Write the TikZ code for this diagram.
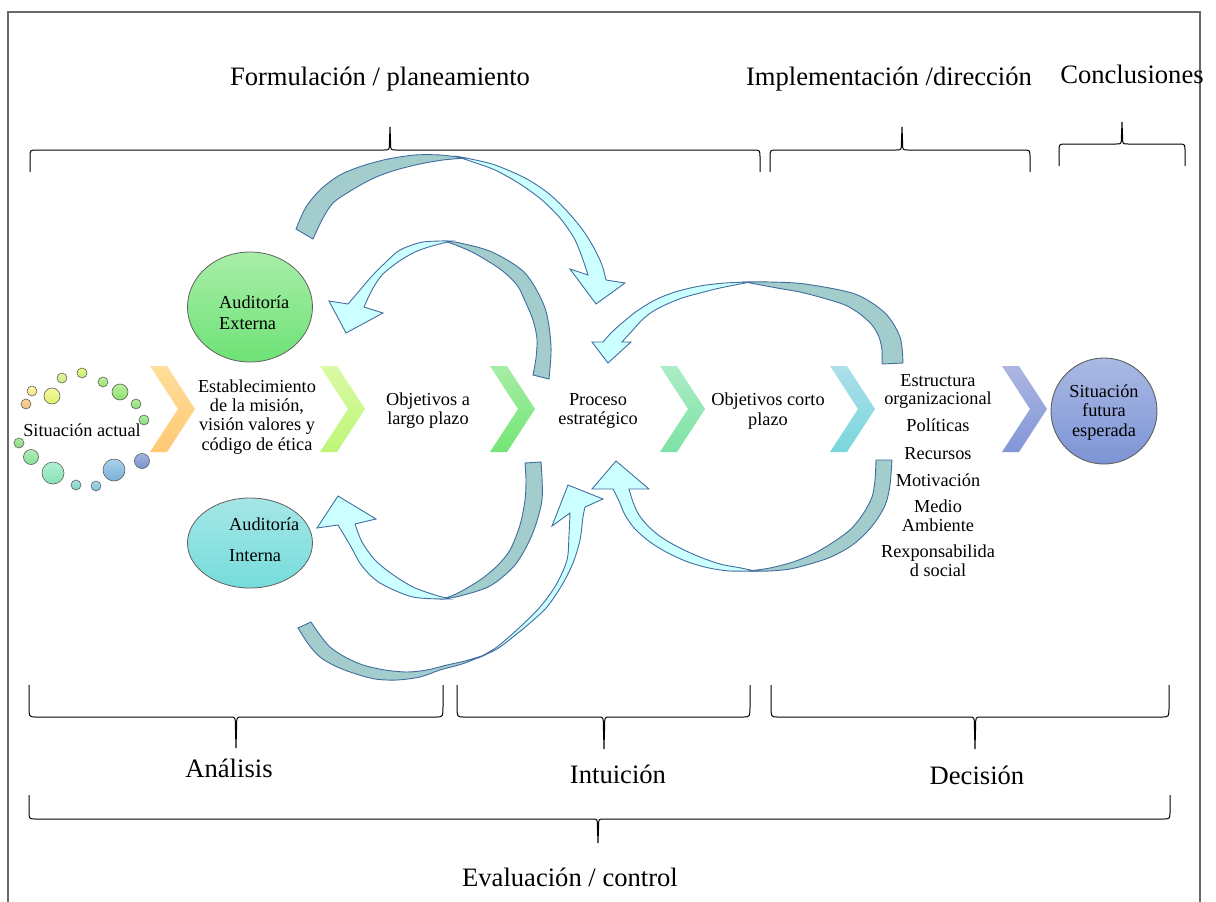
\documentclass[tikz,border=0pt]{standalone}
\usepackage{fontspec}
\setmainfont{Liberation Serif}
\usetikzlibrary{shapes.geometric}

\definecolor{framegray}{RGB}{105,105,105}
\definecolor{arrowline}{RGB}{65,110,160}
\definecolor{arrowdark}{RGB}{163,204,204}
\definecolor{arrowlight}{RGB}{204,255,255}
\definecolor{dotline}{RGB}{95,95,95}

% curly brace: x-left, x-right, x-tip, y-bar, y-tip, y-ends
\newcommand{\drawbrace}[6]{%
  \draw[bracel] (#1,#6) -- (#1,{#4+0.35*(#6-#4)})
    .. controls (#1,#4) .. (#1+7,#4) -- (#3-6,#4)
    .. controls (#3-0.6,#4) .. (#3-0.6,{#4+0.3*(#5-#4)}) -- (#3,#5)
    -- (#3+0.6,{#4+0.3*(#5-#4)}) .. controls (#3+0.6,#4) .. (#3+6,#4)
    -- (#2-7,#4) .. controls (#2,#4) .. (#2,{#4+0.35*(#6-#4)}) -- (#2,#6);}

% chevron of the main row: left x, top colour, bottom colour
\newcommand{\chevronat}[3]{%
  \path[top color=#2, bottom color=#3, draw=none]
    (#1,366) -- (#1+17,366) -- (#1+45,409) -- (#1+17,452) -- (#1,452)
    -- (#1+28,409) -- cycle;}

\begin{document}
\begin{tikzpicture}[x=1pt,y=-1pt,
  bracel/.style={draw=black, line width=1pt},
  biglbl/.style={inner sep=0pt, anchor=base, font=\fontsize{26.6}{30}\selectfont},
  txt/.style={inner sep=0pt, align=center, font=\fontsize{18.3}{19.2}\selectfont},
  dot/.style={circle, draw=dotline, line width=0.6pt, inner sep=0pt},
  darkband/.style={fill=arrowdark, draw=arrowline, line width=0.9pt},
  lightband/.style={fill=arrowlight, draw=arrowline, line width=0.9pt},
  oval/.style={ellipse, draw=dotline, line width=0.8pt, inner sep=0pt}]

\useasboundingbox (0,0) rectangle (1216,902);

% frame
\draw[framegray, line width=2pt] (8,902) -- (8,12) -- (1200,12) -- (1200,902);

% headings and braces above
\node[biglbl] (formu) at (380,85) {Formulación / planeamiento};
\node[biglbl] (implem) at (889,85) {Implementación /dirección};
\node[biglbl] (concl) at (1132,83) {Conclusiones};
\drawbrace{30}{760}{390}{150}{127}{172}
\drawbrace{770}{1030}{902}{150}{127}{172}
\drawbrace{1059}{1185}{1122}{144}{122}{166}

% braces and headings below
\drawbrace{29}{443}{236}{717}{748}{685}
\drawbrace{457}{750}{604}{717}{749}{685}
\drawbrace{771}{1169}{975}{717}{749}{685}
\drawbrace{29}{1170}{598}{819}{843}{795}
\node[biglbl] (anal) at (229,777) {Análisis};
\node[biglbl] (intu) at (618,783) {Intuición};
\node[biglbl] (deci) at (977,784) {Decisión};
\node[biglbl] (evalc) at (570,886) {Evaluación / control};

% ring of dots round the present situation
\node[dot, minimum size=10, top color=white!40!green!30!yellow!60, bottom color={rgb,255:red,190;green,235;blue,130}] (d1) at (82,373) {};
\node[dot, minimum size=10, top color={rgb,255:red,225;green,245;blue,170}, bottom color={rgb,255:red,200;green,238;blue,120}] (d2) at (62,378) {};
\node[dot, minimum size=10, top color={rgb,255:red,190;green,240;blue,160}, bottom color={rgb,255:red,150;green,228;blue,110}] (d3) at (103,382) {};
\node[dot, minimum size=10, top color={rgb,255:red,250;green,245;blue,175}, bottom color={rgb,255:red,240;green,230;blue,130}] (d4) at (32,391) {};
\node[dot, minimum size=16, top color={rgb,255:red,245;green,250;blue,160}, bottom color={rgb,255:red,225;green,240;blue,110}] (d5) at (52,396) {};
\node[dot, minimum size=16, top color={rgb,255:red,185;green,240;blue,160}, bottom color={rgb,255:red,140;green,225;blue,110}] (d6) at (120,392) {};
\node[dot, minimum size=10, top color={rgb,255:red,250;green,215;blue,160}, bottom color={rgb,255:red,240;green,190;blue,120}] (d7) at (26,404) {};
\node[dot, minimum size=10, top color={rgb,255:red,180;green,238;blue,160}, bottom color={rgb,255:red,135;green,222;blue,115}] (d8) at (136,404) {};
\node[dot, minimum size=10, top color={rgb,255:red,175;green,238;blue,160}, bottom color={rgb,255:red,125;green,222;blue,115}] (d9) at (144,420) {};
\node[dot, minimum size=10, top color={rgb,255:red,175;green,235;blue,165}, bottom color={rgb,255:red,135;green,218;blue,125}] (d10) at (19,443) {};
\node[dot, minimum size=15, top color={rgb,255:red,175;green,238;blue,185}, bottom color={rgb,255:red,135;green,222;blue,150}] (d11) at (31,457) {};
\node[dot, minimum size=22, top color={rgb,255:red,175;green,240;blue,210}, bottom color={rgb,255:red,135;green,225;blue,180}] (d12) at (53,473) {};
\node[dot, minimum size=10, top color={rgb,255:red,165;green,228;blue,220}, bottom color={rgb,255:red,125;green,212;blue,200}] (d13) at (76,485) {};
\node[dot, minimum size=10, top color={rgb,255:red,165;green,215;blue,230}, bottom color={rgb,255:red,125;green,195;blue,215}] (d14) at (96,486) {};
\node[dot, minimum size=22, top color={rgb,255:red,170;green,210;blue,235}, bottom color={rgb,255:red,120;green,175;blue,215}] (d15) at (114,470) {};
\node[dot, minimum size=15, top color={rgb,255:red,165;green,180;blue,225}, bottom color={rgb,255:red,120;green,145;blue,205}] (d16) at (142,461) {};
\node[txt] (sitact) at (82,430.5) {Situación actual};

% chevrons of the main row
\chevronat{150}{{rgb,255:red,255;green,222;blue,155}}{{rgb,255:red,255;green,200;blue,115}}
\chevronat{320}{{rgb,255:red,218;green,250;blue,165}}{{rgb,255:red,190;green,245;blue,120}}
\chevronat{490}{{rgb,255:red,165;green,237;blue,165}}{{rgb,255:red,115;green,230;blue,115}}
\chevronat{660}{{rgb,255:red,172;green,237;blue,198}}{{rgb,255:red,125;green,226;blue,165}}
\chevronat{830}{{rgb,255:red,172;green,224;blue,233}}{{rgb,255:red,122;green,214;blue,220}}
\chevronat{1002}{{rgb,255:red,172;green,182;blue,226}}{{rgb,255:red,130;green,150;blue,215}}

% texts of the main row
\node[txt] (estab) at (257,417) {Establecimiento\\de la misión,\\visión valores y\\código de ética};
\node[txt] (objlp) at (428,411) {Objetivos a\\largo plazo};
\node[txt, font=\fontsize{18.3}{18.5}\selectfont] (proc) at (598,411) {Proceso\\estratégico};
\node[txt] (objcp) at (768,411) {Objetivos corto\\plazo};
\node[txt, font=\fontsize{18.3}{18.5}\selectfont] (estr) at (938,391.5) {Estructura\\organizacional};
\node[txt] (poli) at (938,425.7) {Políticas};
\node[txt] (recu) at (938,453.8) {Recursos};
\node[txt] (moti) at (938,480.7) {Motivación};
\node[txt] (medio) at (938,516) {Medio\\Ambiente};
\node[txt] (resp) at (938,561) {Rexponsabilida\\d social};

% audits and expected future
\node[oval, minimum width=125, minimum height=110, top color={rgb,255:red,168;green,238;blue,168}, bottom color={rgb,255:red,110;green,226;blue,118}] (audext) at (250,307) {};
\node[txt, align=left, anchor=west, font=\fontsize{18.3}{21}\selectfont] (audextt) at (219,313) {Auditoría\\Externa};
\node[oval, minimum width=125, minimum height=90, top color={rgb,255:red,165;green,230;blue,230}, bottom color={rgb,255:red,118;green,220;blue,220}] (audint) at (250,543) {};
\node[txt, align=left, anchor=west, font=\fontsize{18.3}{31}\selectfont] (audintt) at (229,540) {Auditoría\\Interna};
\node[circle, draw=dotline, line width=0.9pt, minimum size=106, inner sep=0pt, top color={rgb,255:red,170;green,185;blue,228}, bottom color={rgb,255:red,125;green,148;blue,213}] (futura) at (1104,411) {};
\node[txt] (futurat) at (1104,412.5) {Situación\\futura\\esperada};

% curved arrows: darker back of the ribbon, then lighter front with head
% upper arc towards the strategic process
\filldraw[darkband] plot[smooth] coordinates {(296,229) (306,207) (321,189) (340,175) (362,166) (388,159) (415,155) (440,155) (465,158)}
  -- plot[smooth] coordinates {(465,158) (443,160) (420,164) (396,170) (374,178) (352,190) (333,203) (322,220) (313,239)} -- cycle;
\filldraw[lightband] plot[smooth] coordinates {(455,156) (492,164) (525,178) (548,193) (566,210) (582,229) (594,248) (602,265) (606,280)}
  -- (625,283) -- (596,304) -- (570,269) -- plot[smooth] coordinates {(588,275) (582,257) (574,238) (560,218) (542,200) (520,184) (495,170) (470,161) (455,156)} -- cycle;

% arc back to the external audit
\filldraw[darkband] plot[smooth] coordinates {(549,379) (551,346) (545,308) (525,273) (492,252) (460,243) (445,241)}
  -- plot[smooth] coordinates {(445,241) (472,252) (500,269) (517,285) (525,301) (533,320) (537,339) (536,358) (533,375)} -- cycle;
\filldraw[lightband] plot[smooth] coordinates {(452,241) (423,242) (400,250) (386,262) (372,276) (360,290) (348,304)}
  -- (329,301) -- (346,333) -- (383,313) -- plot[smooth] coordinates {(364,307) (372,290) (382,275) (398,262) (415,252) (432,246) (452,241)} -- cycle;

% arc back to the internal audit
\filldraw[darkband] plot[smooth] coordinates {(541,462) (542,500) (532,535) (515,565) (490,586) (460,596) (443,599)}
  -- plot[smooth] coordinates {(443,599) (458,593) (480,580) (497,566) (510,550) (520,525) (525,500) (526,480) (525,463)} -- cycle;
\filldraw[lightband] plot[smooth] coordinates {(450,599) (413,597) (380,583) (362,566) (350,545) (338,525)}
  -- (317,528) -- (338,496) -- (376,519) -- plot[smooth] coordinates {(355,524) (362,542) (375,560) (392,574) (413,587) (435,595) (450,599)} -- cycle;

% long lower arc from the internal audit
\filldraw[darkband] plot[smooth] coordinates {(298,628) (309,645) (320,657) (335,666) (353,673) (375,679) (397,680) (420,677) (440,670) (462,664) (485,655)}
  -- plot[smooth] coordinates {(485,655) (465,661) (447,665) (427,670) (407,672) (385,670) (363,665) (345,657) (330,647) (320,635) (311,622)} -- cycle;
\filldraw[lightband] plot[smooth] coordinates {(478,658) (497,649) (513,637) (530,623) (547,607) (562,585) (573,563) (580,540) (583,517) (585,507)}
  -- (603,499) -- (568,485) -- (552,526) -- plot[smooth] coordinates {(570,513) (569,535) (567,560) (556,585) (540,607) (520,627) (497,647) (478,658)} -- cycle;

% upper right arc from the implementation back to the process
\filldraw[darkband] plot[smooth] coordinates {(903,363) (900,337) (885,313) (855,294) (805,284) (770,282) (745,282)}
  -- plot[smooth] coordinates {(745,282) (777,288) (800,292) (823,298) (845,305) (860,314) (872,325) (879,337) (882,350) (882,364)} -- cycle;
\filldraw[lightband] plot[smooth] coordinates {(750,282) (725,283) (700,286) (675,292) (655,300) (637,311) (622,323) (611,333) (603,342)}
  -- (592,342) -- (608,363) -- (631,342) -- plot[smooth] coordinates {(622,342) (632,331) (642,320) (652,312) (665,305) (682,298) (700,293) (720,288) (750,282)} -- cycle;

% lower right arc from the implementation back to the process
\filldraw[darkband] plot[smooth] coordinates {(892,460) (890,485) (886,503) (878,518) (866,533) (851,546) (831,557) (810,564) (790,569) (770,571) (749,571)}
  -- plot[smooth] coordinates {(749,571) (770,568) (793,562) (815,553) (835,541) (851,529) (863,514) (872,497) (875,480) (876,460)} -- cycle;
\filldraw[lightband] plot[smooth] coordinates {(755,571) (730,571) (709,568) (688,562) (668,553) (650,542) (635,529) (625,515) (619,501) (613,489)}
  -- (592,489) -- (616,461) -- (649,489) -- plot[smooth] coordinates {(629,489) (633,502) (639,515) (650,528) (664,539) (682,549) (700,557) (720,564) (741,568) (755,571)} -- cycle;

\end{tikzpicture}
\end{document}
